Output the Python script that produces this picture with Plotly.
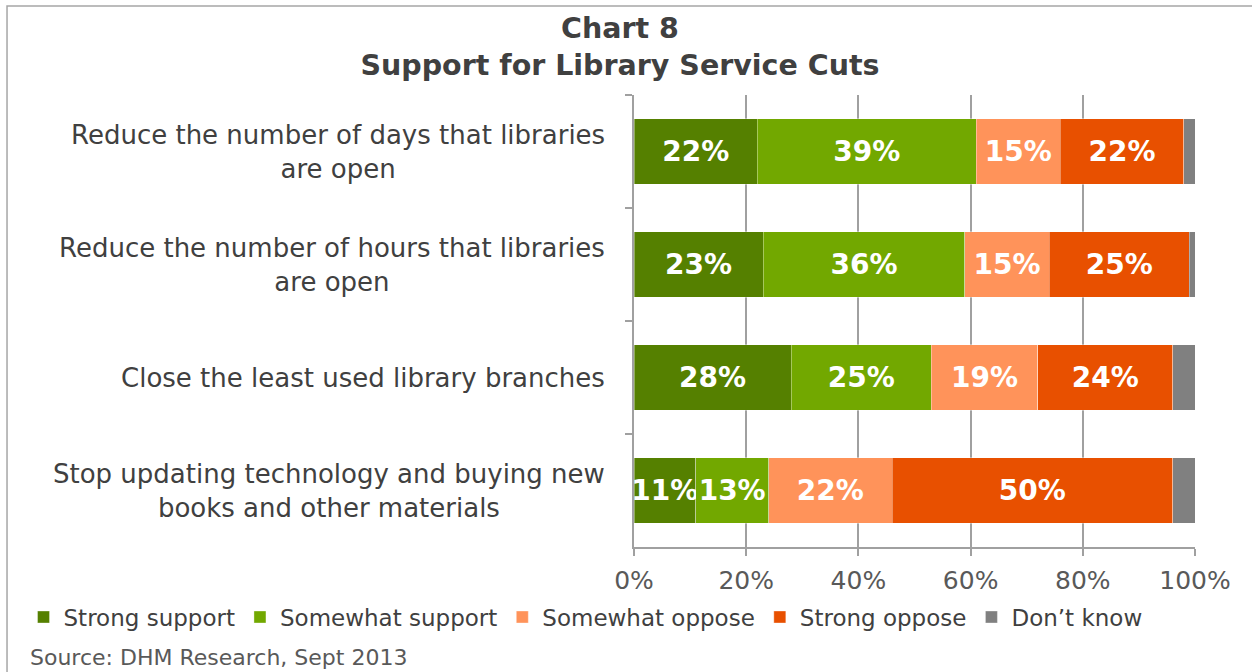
import plotly.graph_objects as go

# Survey items, listed top to bottom
categories = [
    "Reduce the number of days that libraries<br>are open",
    "Reduce the number of hours that libraries<br>are open",
    "Close the least used library branches",
    "Stop updating technology and buying new<br>books and other materials",
]

series_names = ["Strong support", "Somewhat support", "Somewhat oppose", "Strong oppose", "Don’t know"]
strong_support = [22, 23, 28, 11]
somewhat_support = [39, 36, 25, 13]
somewhat_oppose = [15, 15, 19, 22]
strong_oppose = [22, 25, 24, 50]
dont_know = [3, 2, 5, 4]

x_ticks = [0, 20, 40, 60, 80, 100]
x_tick_labels = ["0%", "20%", "40%", "60%", "80%", "100%"]

colors = ["#558000", "#72A800", "#FF935A", "#E85000", "#808080"]
series_values = [strong_support, somewhat_support, somewhat_oppose, strong_oppose, dont_know]
labelled = [True, True, True, True, False]

FONT = "DejaVu Sans"
TEXT_GREY = "#404040"
AXIS_GREY = "#A0A0A0"

fig = go.Figure()
for name, vals, col, show_lbl in zip(series_names, series_values, colors, labelled):
    fig.add_trace(go.Bar(
        y=categories,
        x=vals,
        name=name,
        orientation="h",
        marker=dict(color=col, line=dict(color="rgba(255,255,255,0.6)", width=0.6)),
        text=[f"{v}%" for v in vals] if show_lbl else None,
        textposition="inside" if show_lbl else "none",
        insidetextanchor="middle",
        textangle=0,
        textfont=dict(family=FONT, size=28, color="white", weight="bold"),
        hoverinfo="x+name",
    ))

# Category labels, centred line by line, right edge just left of the axis
for cat in categories:
    fig.add_annotation(
        x=-0.048, xref="paper", y=cat, yref="y",
        text=cat, showarrow=False, xanchor="right", align="center",
        font=dict(family=FONT, size=26, color=TEXT_GREY),
    )

# Outer frame of the chart (continues past the right and bottom edges)
fig.add_shape(type="rect", xref="paper", yref="paper",
              x0=-1.1176, x1=1.3, y0=-0.5, y1=1.197,
              line=dict(color="#A6A6A6", width=1.5), fillcolor="rgba(0,0,0,0)", layer="below")

fig.add_annotation(
    x=-1.080, xref="paper", y=-0.2445, yref="paper",
    text="Source: DHM Research, Sept 2013", showarrow=False,
    xanchor="left", yanchor="middle",
    font=dict(family=FONT, size=22, color="#595959"),
)

fig.update_layout(
    width=1252, height=672,
    margin=dict(l=634, r=57, t=95, b=125),
    paper_bgcolor="white", plot_bgcolor="white",
    barmode="stack", bargap=0.42,
    showlegend=True,
    title=dict(
        text="<b>Chart 8<br>Support for Library Service Cuts</b>",
        x=620 / 1252, xanchor="center", y=1 - 38 / 672, yanchor="middle",
        font=dict(family=FONT, size=28.5, color=TEXT_GREY),
    ),
    legend=dict(
        orientation="h", x=-1.0882, xanchor="left", y=-0.155, yanchor="middle",
        font=dict(family=FONT, size=23, color=TEXT_GREY),
        itemwidth=30, traceorder="normal", bgcolor="rgba(0,0,0,0)",
    ),
    uniformtext=dict(minsize=28, mode="show"),
    xaxis=dict(
        range=[0, 100], tickvals=x_ticks, ticktext=x_tick_labels,
        showgrid=True, gridcolor=AXIS_GREY, gridwidth=1.5,
        showline=True, linecolor=AXIS_GREY, linewidth=1.5,
        ticks="outside", ticklen=7, tickcolor=AXIS_GREY, tickwidth=1.5,
        ticklabelstandoff=3,
        tickfont=dict(family=FONT, size=25, color="#595959"),
        zeroline=False, fixedrange=True, mirror=False,
    ),
    yaxis=dict(
        categoryorder="array", categoryarray=categories, autorange="reversed",
        showticklabels=False, showline=True, linecolor=AXIS_GREY, linewidth=1.5,
        ticks="outside", tickson="boundaries", ticklen=7, tickcolor=AXIS_GREY, tickwidth=1.5,
        showgrid=False, zeroline=False, fixedrange=True,
    ),
)

fig.write_html("out.html")
